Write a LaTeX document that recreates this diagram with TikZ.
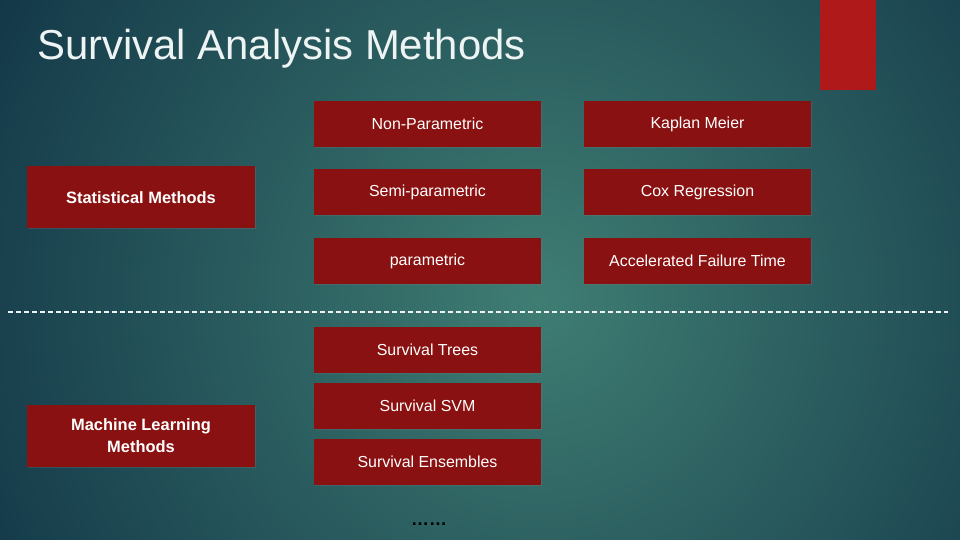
\documentclass[tikz,border=0pt]{standalone}
\usepackage{fontspec}
\setmainfont{Liberation Sans}
\usetikzlibrary{shadows}

\definecolor{bgdark}{HTML}{133848}
\definecolor{bglight}{HTML}{3F7D73}
\definecolor{boxred}{HTML}{8A1111}
\definecolor{barred}{HTML}{B0191A}
\definecolor{titlewhite}{HTML}{EEF4F4}

\tikzset{
  methodbox/.style={fill=boxred, text=white, inner sep=0pt,
    minimum width=227bp, minimum height=46bp,
    font=\fontsize{16}{19}\selectfont,
    drop shadow={opacity=0.25, shadow xshift=1bp, shadow yshift=-1bp}},
  groupbox/.style={methodbox, minimum height=62bp, align=center,
    font=\fontsize{16.5}{22}\selectfont\bfseries}
}

\begin{document}
\begin{tikzpicture}[x=1bp, y=1bp]
			% background
			\useasboundingbox (0,0) rectangle (960,-540);
			\begin{scope}
				\clip (0,0) rectangle (960,-540);
				\shade[inner color=bglight, outer color=bgdark] (540,-300) circle (620);
			\end{scope}
			\fill[barred] (820,0) rectangle (876,-90);
			\node[anchor=base west, inner sep=0pt, text=titlewhite, font=\fontsize{42}{50}\selectfont] (title) at (37,-60) {Survival Analysis Methods};

			% statistical methods
			\node[groupbox] (stat) at (141,-197.5) {Statistical Methods};
			\node[methodbox] (nonpar) at (427.5,-124) {Non-Parametric};
			\node[methodbox] (semipar) at (427.5,-192) {Semi-parametric};
			\node[methodbox] (par) at (427.5,-261) {parametric};
			\node[methodbox] (km) at (697.5,-124) {Kaplan Meier};
			\node[methodbox] (cox) at (697.5,-192) {Cox Regression};
			\node[methodbox] (aft) at (697.5,-261) {Accelerated Failure Time};

			% separator
			\coordinate (sepL) at (8,-312);
			\coordinate (sepR) at (948,-312);
			\draw[titlewhite, line width=2bp, dash pattern=on 5bp off 3bp] (sepL) -- (sepR);

			% machine learning methods
			\node[groupbox] (ml) at (141,-436) {Machine Learning\\Methods};
			\node[methodbox] (trees) at (427.5,-350) {Survival Trees};
			\node[methodbox] (svm) at (427.5,-405.5) {Survival SVM};
			\node[methodbox] (ens) at (427.5,-462) {Survival Ensembles};
			\node[text=black, font=\fontsize{18}{20}\selectfont\bfseries] (more) at (429,-524) {……};
		\end{tikzpicture}
\end{document}
